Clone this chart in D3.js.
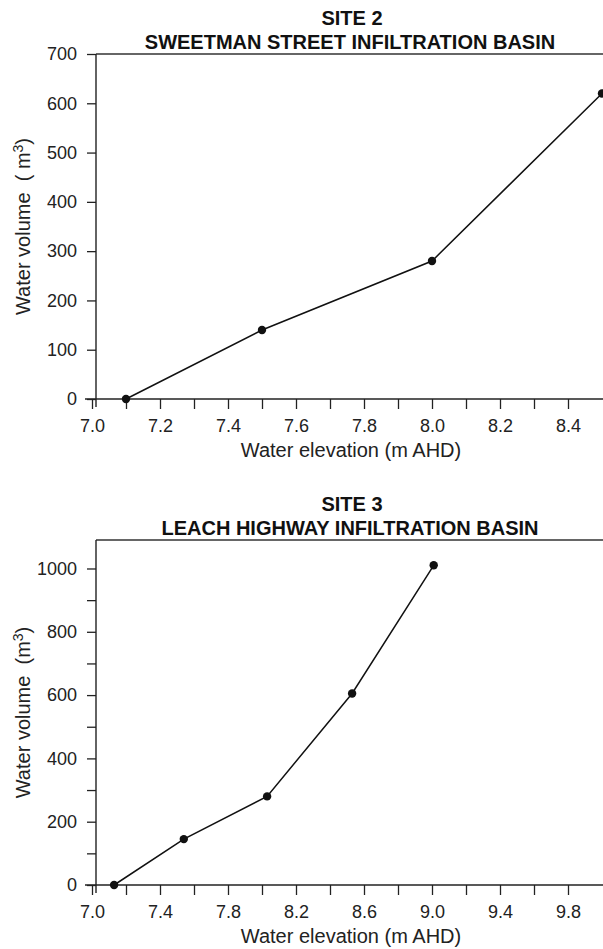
<!DOCTYPE html>
<html>
<head>
<meta charset="utf-8">
<script src="https://cdn.jsdelivr.net/npm/d3@7.9.0/dist/d3.min.js"></script>
<style>
  body { margin: 0; background: #fff; }
  svg { display: block; font-family: "Liberation Sans", Arial, sans-serif; }
  .tick text { font-size: 18px; fill: #222; }
  .title { font-weight: bold; font-size: 20px; fill: #111; }
  .axis-title { font-size: 20px; fill: #222; white-space: pre; }
</style>
</head>
<body>
<svg width="603" height="949"></svg>
<script>
// Site 2 - Sweetman Street infiltration basin
const site2Elevation = [7.1, 7.5, 8.0, 8.5];
const site2Volume = [0, 140, 280, 620];
const site2XLabels = [7.0, 7.2, 7.4, 7.6, 7.8, 8.0, 8.2, 8.4];
const site2YLabels = [0, 100, 200, 300, 400, 500, 600, 700];

// Site 3 - Leach Highway infiltration basin
const site3Elevation = [7.13, 7.54, 8.03, 8.53, 9.01];
const site3Volume = [0, 145, 280, 605, 1010];
const site3XLabels = [7.0, 7.4, 7.8, 8.2, 8.6, 9.0, 9.4, 9.8];
const site3YLabels = [0, 200, 400, 600, 800, 1000];

const svg = d3.select('svg');

function drawChart(opts) {
    const g = svg.append('g');
    const x = d3.scaleLinear().domain(opts.xDomain).range([92, 602]);
    const y = d3.scaleLinear().domain(opts.yDomain).range([opts.bottom, opts.top]);
    const yAxisX = 96;

    // titles
    g.append('text').attr('class', 'title')
        .attr('x', 352).attr('y', opts.top - 29)
        .attr('text-anchor', 'middle').text(opts.site);
    g.append('text').attr('class', 'title')
        .attr('x', 350).attr('y', opts.top - 5)
        .attr('text-anchor', 'middle').text(opts.name);

    // frame top
    g.append('line')
        .attr('x1', yAxisX).attr('x2', 603)
        .attr('y1', y(opts.yDomain[1])).attr('y2', y(opts.yDomain[1]))
        .attr('stroke', '#333').attr('stroke-width', 1.3);

    // x axis
    const xAxis = d3.axisBottom(x)
        .tickValues(opts.xTicks)
        .tickSize(10)
        .tickPadding(10)
        .tickFormat(d => opts.xLabels.some(v => Math.abs(v - d) < 1e-6) ? d3.format('.1f')(d) : '');
    const xg = g.append('g')
        .attr('transform', `translate(0,${opts.bottom})`)
        .call(xAxis);
    xg.select('.domain').remove();
    xg.selectAll('.tick line').attr('stroke', '#222').attr('stroke-width', 1.3);
    g.append('line')
        .attr('x1', 85).attr('x2', 603)
        .attr('y1', opts.bottom).attr('y2', opts.bottom)
        .attr('stroke', '#222').attr('stroke-width', 1.4);

    // y axis
    const yAxis = d3.axisLeft(y)
        .tickValues(opts.yTicks)
        .tickSize(9)
        .tickPadding(10)
        .tickFormat(d => opts.yLabels.includes(d) ? d : '');
    const yg = g.append('g')
        .attr('transform', `translate(${yAxisX},0)`)
        .call(yAxis);
    yg.select('.domain').remove();
    yg.selectAll('.tick line').attr('stroke', '#222').attr('stroke-width', 1.3);
    g.append('line')
        .attr('x1', yAxisX).attr('x2', yAxisX)
        .attr('y1', y(opts.yDomain[1])).attr('y2', opts.bottom + 8)
        .attr('stroke', '#222').attr('stroke-width', 1.4);

    // axis titles
    g.append('text').attr('class', 'axis-title')
        .attr('x', 351).attr('y', opts.bottom + 58)
        .attr('text-anchor', 'middle').text('Water elevation (m AHD)');
    const yt = g.append('text').attr('class', 'axis-title')
        .attr('transform', `translate(30,${(opts.top + opts.bottom) / 2}) rotate(-90)`)
        .attr('text-anchor', 'middle');
    yt.append('tspan').text(opts.yTitle);
    yt.append('tspan').attr('dy', -7).attr('font-size', 14).text('3');
    yt.append('tspan').attr('dy', 7).text(')');

    // data
    const pts = opts.elev.map((e, i) => [e, opts.vol[i]]);
    g.append('path')
        .datum(pts)
        .attr('fill', 'none')
        .attr('stroke', '#111')
        .attr('stroke-width', 1.5)
        .attr('d', d3.line().x(d => x(d[0])).y(d => y(d[1])));
    g.selectAll('circle.pt')
        .data(pts)
        .join('circle')
        .attr('class', 'pt')
        .attr('cx', d => x(d[0]))
        .attr('cy', d => y(d[1]))
        .attr('r', 4.2)
        .attr('fill', '#111');
}

drawChart({
    site: 'SITE 2',
    name: 'SWEETMAN STREET INFILTRATION BASIN',
    xDomain: [7.0, 8.5],
    yDomain: [0, 700],
    top: 54, bottom: 399,
    xTicks: d3.range(70, 85).map(d => d / 10),
    xLabels: site2XLabels,
    yTicks: site2YLabels,
    yLabels: site2YLabels,
    yTitle: 'Water volume  ( m',
    elev: site2Elevation,
    vol: site2Volume
});

drawChart({
    site: 'SITE 3',
    name: 'LEACH HIGHWAY INFILTRATION BASIN',
    xDomain: [7.0, 10.0],
    yDomain: [0, 1090],
    top: 540, bottom: 885,
    xTicks: d3.range(35, 50).map(d => d / 5),
    xLabels: site3XLabels,
    yTicks: d3.range(0, 1001, 100),
    yLabels: site3YLabels,
    yTitle: 'Water volume  (m',
    elev: site3Elevation,
    vol: site3Volume
});
</script>
</body>
</html>
